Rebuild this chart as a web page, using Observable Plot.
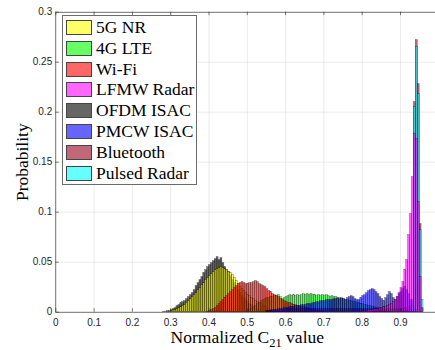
<!DOCTYPE html>
<html><head><meta charset="utf-8">
<script src="https://cdn.jsdelivr.net/npm/d3@7"></script>
<script src="https://cdn.jsdelivr.net/npm/@observablehq/plot@0.6"></script>
<style>
html,body{margin:0;padding:0;background:#fff;}
#wrap{position:relative;width:435px;height:350px;overflow:hidden;}
#chart svg{overflow:hidden;}
#legend{position:absolute;left:62px;top:15px;width:135px;height:170px;border:1px solid #6b6b6b;background:#fff;box-sizing:border-box;padding-top:1px;font-family:"Liberation Serif","Times New Roman",serif;font-size:17.5px;color:#000;}
.row{display:flex;align-items:center;height:20.85px;white-space:nowrap;}
.sw{width:26px;height:15px;border:1px solid #444;box-sizing:border-box;margin-left:3px;margin-right:4px;flex:none;}
</style></head><body>
<div id="wrap"><div id="chart"></div><div id="legend"></div></div>
<script>
// ---- data ----
const binWidth = 0.005;
const seriesNames = ["5G NR","4G LTE","Wi-Fi","LFMW Radar","OFDM ISAC","PMCW ISAC","Bluetooth","Pulsed Radar"];
const seriesColors = ["#ffff00","#00ff00","#ff0000","#ff00ff","#000000","#0000ff","#96031e","#00ffff"];
const drawOrder = [4,0,1,2,6,5,7,3];

const nr5gStart = 0.295;
const nr5g = [0.0005,0.001,0.002,0.002,0.003,0.004,0.005,0.006,0.007,0.009,
 0.011,0.013,0.015,0.017,0.019,0.022,0.024,0.027,0.029,0.032,
 0.034,0.036,0.038,0.040,0.042,0.043,0.044,0.045,0.044,0.043,
 0.042,0.040,0.039,0.037,0.034,0.031,0.028,0.025,0.023,0.021,
 0.019,0.017,0.016,0.014,0.013,0.011,0.010,0.009,0.008,0.006,
 0.005,0.004,0.003,0.002,0.002,0.001,0.0005];

const lte4gStart = 0.500;
const lte4g = [0.001,0.002,0.003,0.005,0.006,0.008,0.009,0.011,0.012,0.013,
 0.014,0.014,0.015,0.015,0.016,0.016,0.017,0.015,0.013,0.014,
 0.015,0.016,0.017,0.016,0.017,0.016,0.017,0.016,0.017,0.018,
 0.017,0.018,0.017,0.018,0.017,0.017,0.016,0.017,0.016,0.017,
 0.016,0.017,0.016,0.015,0.016,0.015,0.015,0.014,0.014,0.013,
 0.013,0.012,0.012,0.011,0.011,0.010,0.010,0.009,0.009,0.008,
 0.008,0.007,0.007,0.006,0.006,0.005,0.005,0.004,0.004,0.003,
 0.003,0.002,0.002,0.001,0.001];

const wifiStart = 0.395;
const wifi = [0.0005,0.001,0.002,0.003,0.004,0.006,0.008,0.010,0.012,0.014,
 0.016,0.018,0.020,0.022,0.024,0.026,0.028,0.029,0.030,0.029,
 0.028,0.028,0.029,0.029,0.030,0.031,0.030,0.028,0.027,0.026,
 0.025,0.023,0.021,0.020,0.018,0.017,0.016,0.015,0.013,0.012,
 0.011,0.010,0.009,0.009,0.008,0.007,0.007,0.006,0.006,0.005,
 0.005,0.004,0.004,0.003,0.003,0.002,0.002,0.002,0.001,0.001,
 0.001,0.0005];

const lfmwStart = 0.800;
const lfmw = [0.001,0.001,0.001,0.002,0.002,0.002,0.003,0.003,0.003,0.004,
 0.004,0.005,0.005,0.006,0.007,0.008,0.010,0.012,0.015,0.019,
 0.024,0.030,0.042,0.052,0.077,0.098,0.135,0.178,0.173,0.110,
 0.035,0.004];

const ofdmStart = 0.280;
const ofdm = [0.0005,0.0005,0.001,0.001,0.002,0.003,0.004,0.006,0.007,0.009,
 0.010,0.011,0.013,0.015,0.017,0.019,0.022,0.026,0.029,0.032,
 0.035,0.039,0.042,0.045,0.047,0.049,0.051,0.053,0.055,0.052,
 0.054,0.049,0.045,0.042,0.040,0.036,0.032,0.029,0.025,0.022,
 0.019,0.016,0.014,0.012,0.010,0.008,0.007,0.005,0.004,0.003,
 0.002,0.002,0.001,0.001,0.0005];

const pmcwStart = 0.550;
const pmcw = [0.001,0.001,0.001,0.002,0.002,0.002,0.003,0.003,0.003,0.004,
 0.004,0.004,0.005,0.005,0.005,0.006,0.006,0.006,0.007,0.007,
 0.007,0.008,0.008,0.008,0.009,0.009,0.010,0.010,0.011,0.011,
 0.011,0.012,0.012,0.012,0.012,0.013,0.013,0.013,0.013,0.014,
 0.013,0.012,0.014,0.015,0.016,0.015,0.013,0.012,0.012,0.014,
 0.016,0.017,0.019,0.021,0.022,0.023,0.022,0.020,0.018,0.015,
 0.013,0.011,0.014,0.017,0.020,0.018,0.014,0.012,0.015,0.018,
 0.020,0.023,0.025,0.022,0.018,0.012,0.008,0.004,0.002];

const bluetoothStart = 0.550;
const bluetooth = [0.001,0.001,0.001,0.001,0.002,0.002,0.002,0.002,0.002,0.002,
 0.003,0.003,0.003,0.003,0.003,0.003,0.003,0.003,0.003,0.003,
 0.003,0.003,0.003,0.003,0.003,0.003,0.003,0.003,0.003,0.003,
 0.003,0.003,0.003,0.003,0.003,0.003,0.003,0.003,0.003,0.003,
 0.003,0.003,0.003,0.003,0.003,0.003,0.003,0.003,0.003,0.003,
 0.003,0.003,0.003,0.003,0.003,0.003,0.003,0.003,0.003,0.003,
 0.003,0.003,0.003,0.003,0.003,0.003,0.003,0.003,0.003,0.003,
 0.003,0.003,0.004,0.004,0.005,0.006,0.012,0.210,0.272,0.228,
 0.088,0.003];

const pulsedStart = 0.925;
const pulsed = [0.002,0.010,0.205,0.265,0.218,0.082,0.012];

const xTicks = [0,0.1,0.2,0.3,0.4,0.5,0.6,0.7,0.8,0.9];
const xTickLabels = ["0","0.1","0.2","0.3","0.4","0.5","0.6","0.7","0.8","0.9"];
const yTicks = [0,0.05,0.1,0.15,0.2,0.25,0.3];
const yTickLabels = ["0","0.05","0.1","0.15","0.2","0.25","0.3"];
const xLabelParts = ["Normalized C","21"," value"];
const yLabel = "Probability";

// ---- build ----
const starts = [nr5gStart,lte4gStart,wifiStart,lfmwStart,ofdmStart,pmcwStart,bluetoothStart,pulsedStart];
const values = [nr5g,lte4g,wifi,lfmw,ofdm,pmcw,bluetooth,pulsed];
const rows = values.map((vals,k) => vals.map((v,i) => ({x1: starts[k] + i*binWidth, x2: starts[k] + (i+1)*binWidth, y: v})));

const W = 435, H = 350;
const mL = 55.3, mR = -3.3, mT = 11.7, mB = 38.3;
const fw = W - mL - mR, fh = H - mT - mB;
const serif = "Liberation Serif, Times New Roman, serif";
const axisCol = "#262626";

const chart = Plot.plot({
  width: W, height: H,
  marginLeft: mL, marginRight: mR, marginTop: mT, marginBottom: mB,
  x: {domain: [0,1]},
  y: {domain: [0,0.3]},
  style: {fontFamily: "Liberation Sans, Arial, sans-serif", fontSize: "10px", color: axisCol, background: "#fff"},
  marks: [
    Plot.gridX(xTicks, {stroke: axisCol, strokeOpacity: 0.15, strokeWidth: 0.6}),
    Plot.gridY(yTicks, {stroke: axisCol, strokeOpacity: 0.15, strokeWidth: 0.6}),
    ...drawOrder.map(k => Plot.rectY(rows[k], {x1: "x1", x2: "x2", y1: 0, y2: "y", fill: seriesColors[k], fillOpacity: 0.6, stroke: "#000", strokeOpacity: 0.55, strokeWidth: 0.5})),
    Plot.tickX(xTicks, {x: d => d, insetTop: fh - 3.5, stroke: axisCol, strokeWidth: 0.6}),
    Plot.tickX(xTicks, {x: d => d, insetBottom: fh - 3.5, stroke: axisCol, strokeWidth: 0.6}),
    Plot.tickY(yTicks, {y: d => d, insetRight: fw - 3.5, stroke: axisCol, strokeWidth: 0.6}),
    Plot.frame({stroke: axisCol, strokeWidth: 0.6}),
    Plot.axisX(xTicks, {tickSize: 0, tickPadding: 6.3, label: null, tickFormat: d => xTickLabels[xTicks.indexOf(d)]}),
    Plot.axisY(yTicks, {tickSize: 0, tickPadding: 3.6, label: null, tickFormat: d => yTickLabels[yTicks.indexOf(d)]}),
    Plot.text([xLabelParts.join("")], {text: d => d, frameAnchor: "bottom", textAnchor: "middle", lineAnchor: "middle", dy: 25, fontSize: 17.5, fontFamily: serif, fill: "#000"}),
    Plot.text([yLabel], {text: d => d, frameAnchor: "left", textAnchor: "middle", lineAnchor: "middle", rotate: -90, dx: -33, fontSize: 17.5, fontFamily: serif, fill: "#000"})
  ]
});
document.getElementById("chart").appendChild(chart);

// subscript in x label
d3.select(chart).selectAll("text").filter(function(){ return this.textContent === xLabelParts.join(""); }).each(function(){
  const t = d3.select(this);
  t.text(null);
  t.append("tspan").text(xLabelParts[0]);
  t.append("tspan").attr("font-size", "12.5px").attr("dy", "4").text(xLabelParts[1]);
  t.append("tspan").attr("dy", "-4").text(xLabelParts[2]);
});

// legend
const legend = d3.select("#legend");
seriesNames.forEach((name,k) => {
  const r = legend.append("div").attr("class","row");
  const c = d3.color(seriesColors[k]); c.opacity = 0.6;
  r.append("div").attr("class","sw").style("background", c.formatRgb());
  r.append("span").text(name);
});
</script>
</body></html>
